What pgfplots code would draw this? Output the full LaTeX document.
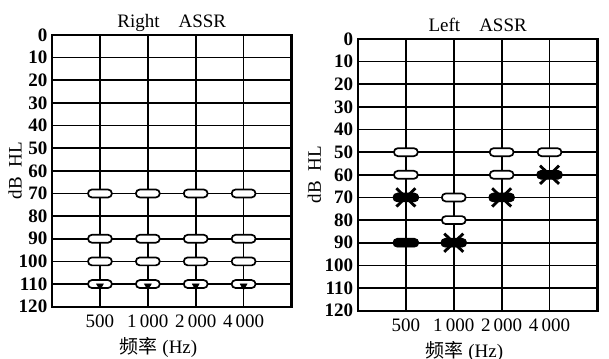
\documentclass[border=0pt]{standalone}
\usepackage{fontspec}
\setmainfont{Liberation Serif}
\newfontfamily\cjk{Noto Sans CJK SC}
\usepackage{pgfplots}
\pgfplotsset{compat=1.18}
\pgfdeclareplotmark{pill}{%
 \pgfpathmoveto{\pgfqpoint{-4.2pt}{-2.1pt}}%
 \pgfpathlineto{\pgfqpoint{4.2pt}{-2.1pt}}%
 \pgfpatharc{-90}{90}{2.1pt}%
 \pgfpathlineto{\pgfqpoint{-4.2pt}{2.1pt}}%
 \pgfpatharc{90}{270}{2.1pt}%
 \pgfpathclose
 \pgfusepathqfillstroke}
\pgfdeclareplotmark{bpill}{%
 \pgfpathmoveto{\pgfqpoint{-4.5pt}{-2.3pt}}%
 \pgfpathlineto{\pgfqpoint{4.5pt}{-2.3pt}}%
 \pgfpatharc{-90}{90}{2.3pt}%
 \pgfpathlineto{\pgfqpoint{-4.5pt}{2.3pt}}%
 \pgfpatharc{90}{270}{2.3pt}%
 \pgfpathclose
 \pgfusepathqfillstroke}
\pgfdeclareplotmark{bigx}{%
 \pgfpathmoveto{\pgfqpoint{-5pt}{-4.8pt}}%
 \pgfpathlineto{\pgfqpoint{5pt}{4.8pt}}%
 \pgfpathmoveto{\pgfqpoint{-5pt}{4.8pt}}%
 \pgfpathlineto{\pgfqpoint{5pt}{-4.8pt}}%
 \pgfusepathqstroke}
\pgfplotsset{audio/.style={scale only axis, width=126pt, height=143pt,
  xmin=0, xmax=5, ymin=0, ymax=120, y dir=reverse, clip=false,
  ytick={0,10,...,120}, xtick={1,2,3,4},
  xticklabels={500,1\,000,2\,000,4\,000},
  grid=major, major grid style={black, line width=0.9pt},
  axis line style={line width=1.2pt}, major tick length=0pt,
  /pgf/number format/assume math mode=true,
  yticklabel style={font=\bfseries, xshift=1pt},
  xticklabel style={yshift=-1pt},
  xlabel={{\cjk 频率} (Hz)},
  xlabel style={xshift=-7pt, yshift=2pt}},
  wpill/.style={only marks, mark=pill, mark options={fill=white, draw=black, line width=0.9pt}},
  bpillst/.style={only marks, mark=bpill, mark options={fill=black, draw=black}},
  ast/.style={only marks, mark=bigx, mark options={line width=1.5pt, black}}
}
\begin{document}
\begin{tikzpicture}
\useasboundingbox (0,0) rectangle (320.5pt,-188.9pt);
\begin{axis}[audio, at={(27.4pt,-18.4pt)}, anchor=north west]
\addplot[wpill] coordinates {(1,70)(2,70)(3,70)(4,70)(1,90)(2,90)(3,90)(4,90)(1,100)(2,100)(3,100)(4,100)(1,110)(2,110)(3,110)(4,110)};
\addplot[only marks, mark=triangle*, mark size=2pt, mark options={rotate=180, fill=black, draw=black}] coordinates {(1,110.8)(2,110.8)(3,110.8)(4,110.8)};
\node[anchor=base, yshift=3.7pt] at (axis description cs:0.5,1) {Right\quad ASSR};
\node[rotate=90, anchor=center] at ([xshift=-19.5pt]axis description cs:0,0.5) {dB\ \ HL};
\end{axis}
\begin{axis}[audio, at={(188.4pt,-20.5pt)}, anchor=north west]
\addplot[wpill] coordinates {(1,50)(1,60)(2,70)(2,80)(3,50)(3,60)(4,50)};
\addplot[bpillst] coordinates {(1,70)(1,90)(2,90)(3,70)(4,60)};
\addplot[ast] coordinates {(1,70)(2,90)(3,70)(4,60)};
\node[anchor=base, yshift=3.7pt] at (axis description cs:0.5,1) {Left\quad ASSR};
\node[rotate=90, anchor=center] at ([xshift=-23pt]axis description cs:0,0.5) {dB\ \ HL};
\end{axis}
\end{tikzpicture}
\end{document}
